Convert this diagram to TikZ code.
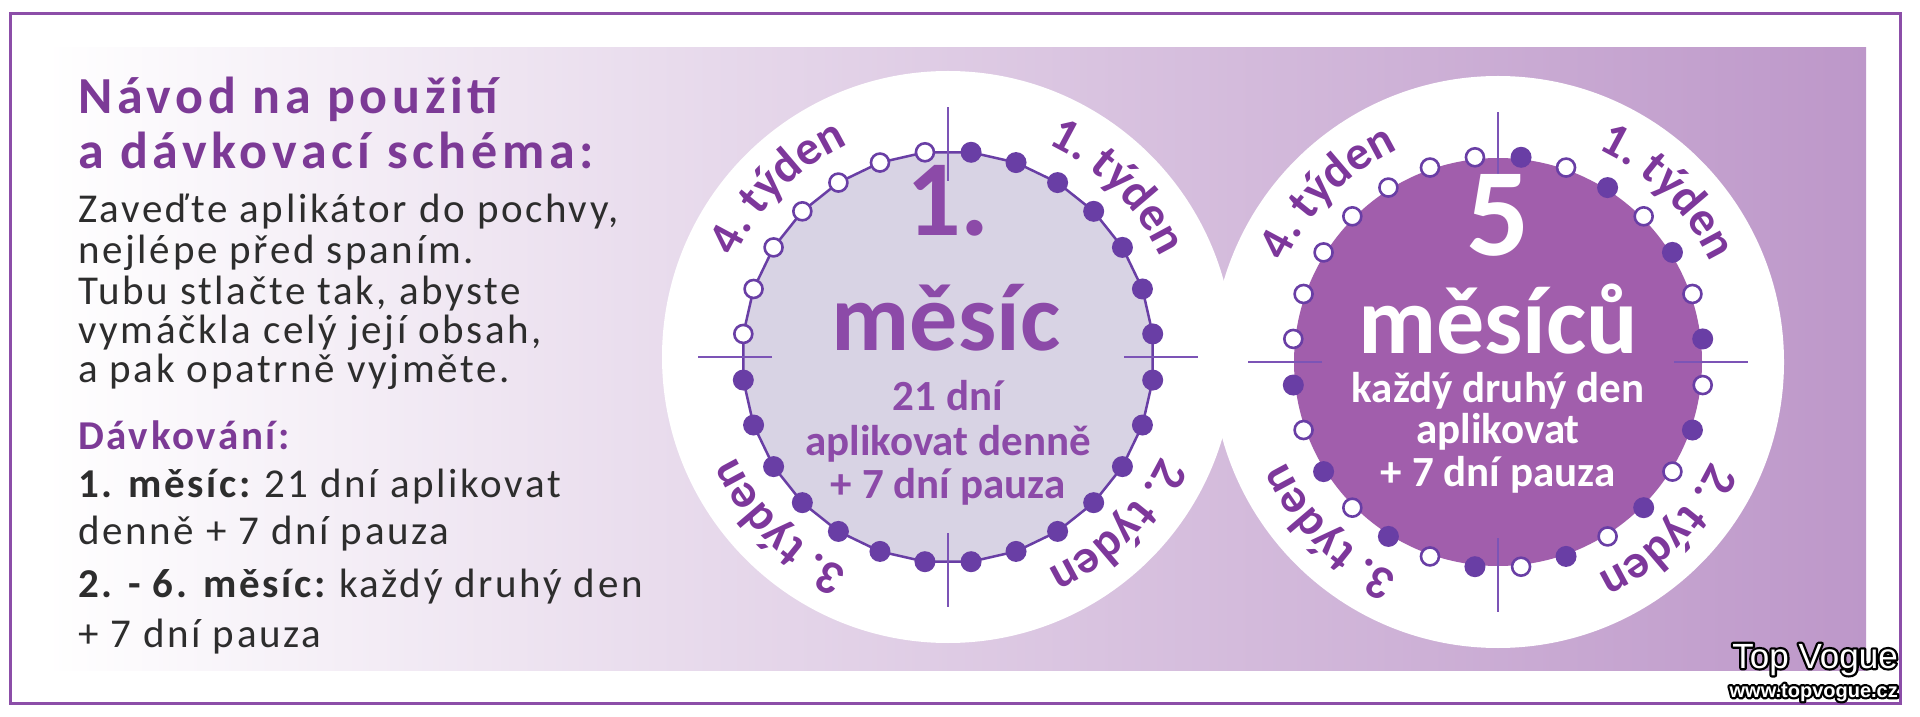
\documentclass[tikz,border=0pt]{standalone}
\usepackage{fontspec}
\setmainfont{Carlito}
\newfontfamily\bodyfont{Carlito}[LetterSpace=6.5]
\newfontfamily\headfont{Carlito}[LetterSpace=9]
\newfontfamily\wmfont{Liberation Sans}
\usetikzlibrary{decorations.text}
\definecolor{bordercol}{RGB}{140,78,168}
\definecolor{panelR}{RGB}{189,151,201}
\definecolor{headcol}{RGB}{124,58,150}
\definecolor{bodycol}{RGB}{45,45,45}
\definecolor{wkcol}{RGB}{125,55,155}
\definecolor{dotcol}{RGB}{105,62,165}
\definecolor{tickcol}{RGB}{124,84,182}
\definecolor{innerA}{RGB}{216,211,228}
\definecolor{innerB}{RGB}{161,94,172}
\definecolor{ctrcol}{RGB}{140,74,168}
\newcommand\wkf{\fontsize{48}{52}\selectfont\bfseries\color{wkcol}}
\newcommand\olon{\special{pdf:literal direct 0 0 0 RG 4.5 w 1 j 2 Tr}}
\newcommand\oloff{\special{pdf:literal direct 0 Tr}}
\newcommand\outlined[1]{\rlap{\olon #1\oloff}#1}
\tikzset{
  body/.style={anchor=base west, inner sep=0pt, text=bodycol, font=\bodyfont\fontsize{41}{46}\selectfont},
  head/.style={anchor=base west, inner sep=0pt, text=headcol, font=\headfont\bfseries\fontsize{52}{56}\selectfont},
  sub/.style={anchor=base west, inner sep=0pt, text=headcol, font=\bodyfont\bfseries\fontsize{41}{46}\selectfont},
  big/.style={anchor=base, inner sep=0pt, font=\bfseries\fontsize{96}{100}\selectfont},
  small/.style={anchor=base, inner sep=0pt, font=\bfseries\fontsize{43}{46}\selectfont},
  ringline/.style={draw=dotcol, line width=2.5pt},
  ticks/.style={draw=tickcol, line width=2.8pt},
  opendot/.style={draw=dotcol, fill=white, line width=2.6pt},
  wm/.style={inner sep=0pt, anchor=base east, text=white},
}
\begin{document}
\begin{tikzpicture}[x=1pt,y=1pt]
\useasboundingbox (0,0) rectangle (1920,716);
\fill[white] (0,0) rectangle (1920,716);
\shade[left color=white, right color=panelR] (45,46) rectangle (1866,668);
\draw[bordercol, line width=3pt] (10,13) rectangle (1900,702);
\coordinate (c1) at (948,359);
\coordinate (c2) at (1498,354);
\fill[white] (c1) circle[radius=286pt];
\fill[white] (c2) circle[radius=286pt];
\foreach \i in {1,...,28}{
  \pgfmathsetmacro\ang{90-(\i-0.5)*360/28}
  \path (c1) ++(\ang:206pt) coordinate (A\i);
  \path (c2) ++(\ang:206pt) coordinate (B\i);
}
\draw[ringline, fill=innerA] (A1) \foreach \i in {2,...,28}{ -- (A\i)} -- cycle;
\fill[innerB] (c2) circle[radius=204pt];
\foreach \c in {c1,c2}{
  \foreach \a in {0,90,180,270}{
    \draw[ticks] (\c) ++(\a:176pt) -- ++(\a:74pt);
  }
}
\foreach \i in {1,...,28}{
  \pgfmathtruncatemacro\odd{mod(\i,2)}
  \ifnum\i<22
    \fill[dotcol] (A\i) circle[radius=10.5pt];
    \ifnum\odd=1
      \fill[dotcol] (B\i) circle[radius=10.5pt];
    \else
      \draw[opendot] (B\i) circle[radius=9pt];
    \fi
  \else
    \draw[opendot] (A\i) circle[radius=9pt];
    \draw[opendot] (B\i) circle[radius=9pt];
  \fi
}
% week labels
\foreach \c in {c1,c2}{
  \path[decorate, decoration={text along path, text={|\wkf|1. týden}, text align=center}]
    (\c) ++(85:235pt) arc[start angle=85, end angle=5, radius=235pt];
  \path[decorate, decoration={text along path, text={|\wkf|2. týden}, text align=center}]
    (\c) ++(-5:235pt) arc[start angle=-5, end angle=-85, radius=235pt];
  \path[decorate, decoration={text along path, text={|\wkf|3. týden}, text align=center}]
    (\c) ++(-95:235pt) arc[start angle=-95, end angle=-175, radius=235pt];
  \path[decorate, decoration={text along path, text={|\wkf|4. týden}, text align=center}]
    (\c) ++(175:235pt) arc[start angle=175, end angle=95, radius=235pt];
}
% centre texts, circle 1
\node[big, text=ctrcol, font=\bfseries\fontsize{108}{112}\selectfont] (m1a) at (948,480) {1.};
\node[big, text=ctrcol] (m1b) at (946,366) {měsíc};
\node[small, text=ctrcol] (m1c) at (948,306) {21 dní};
\node[small, text=ctrcol] (m1d) at (948,261) {aplikovat denně};
\node[small, text=ctrcol] (m1e) at (948,218) {+ 7 dní pauza};
% centre texts, circle 2
\node[big, text=white, font=\bfseries\fontsize{125}{130}\selectfont] (m2a) at (1498,460) {5};
\node[big, text=white] (m2b) at (1498,362) {měsíců};
\node[small, text=white] (m2c) at (1498,313) {každý druhý den};
\node[small, text=white] (m2d) at (1498,273) {aplikovat};
\node[small, text=white] (m2e) at (1498,230) {+ 7 dní pauza};
% left text
\node[head] (h1) at (78,602) {Návod na použití};
\node[head] (h2) at (78,547) {a dávkovací schéma:};
\node[body] (b1) at (78,493) {Zaveďte aplikátor do pochvy,};
\node[body] (b2) at (78,452) {nejlépe před spaním.};
\node[body] (b3) at (78,411) {Tubu stlačte tak, abyste};
\node[body] (b4) at (78,372) {vymáčkla celý její obsah,};
\node[body] (b5) at (78,334) {a pak opatrně vyjměte.};
\node[sub] (d0) at (78,267) {Dávkování:};
\node[body] (d1) at (78,219) {\textbf{1. měsíc:}\hspace{-5pt} 21 dní aplikovat};
\node[body] (d2) at (78,172) {denně + 7 dní pauza};
\node[body] (d3) at (78,119) {\textbf{2. - 6. měsíc:}\hspace{-5pt} každý druhý den};
\node[body] (d4) at (78,69) {+ 7 dní pauza};
% watermark
\node[wm, font=\wmfont\fontsize{35}{38}\selectfont] (wm1) at (1898,48) {\outlined{Top Vogue}};
\node[wm, font=\wmfont\bfseries\fontsize{20}{22}\selectfont] (wm2) at (1898,19) {\outlined{www.topvogue.cz}};
\end{tikzpicture}
\end{document}
